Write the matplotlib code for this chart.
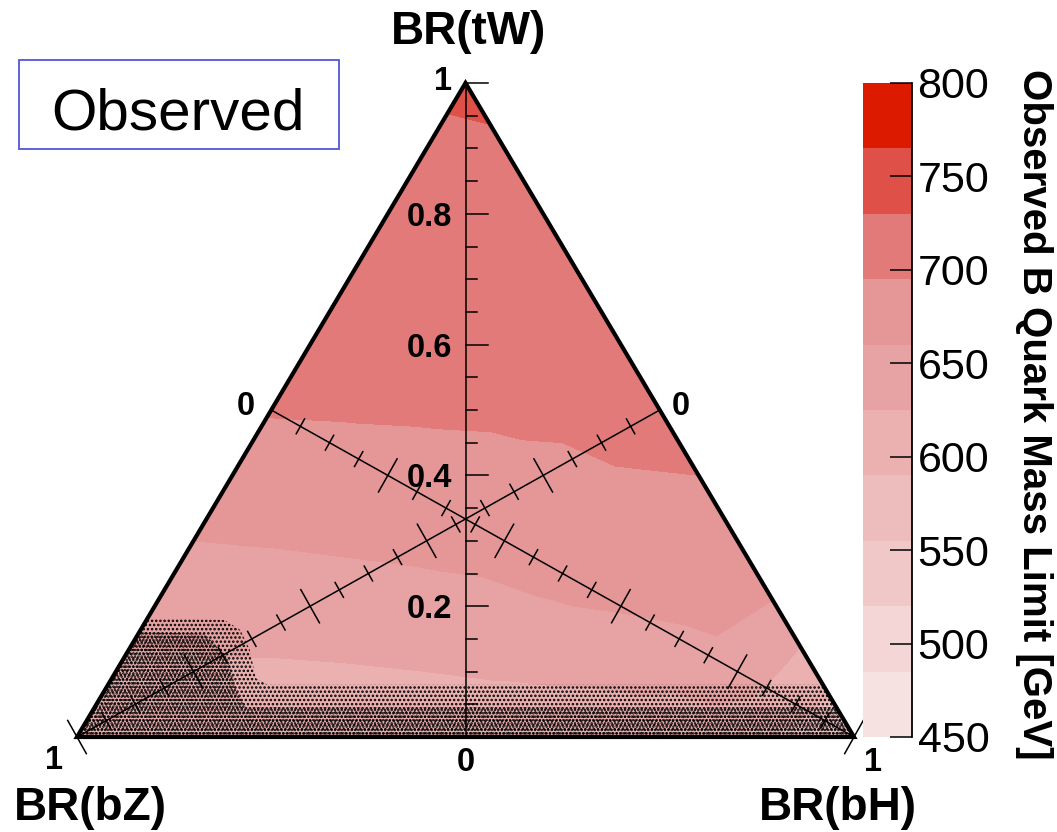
import numpy as np
import matplotlib
matplotlib.use("Agg")
import matplotlib.pyplot as plt
import matplotlib.tri as mtri
from matplotlib.patches import Polygon, Rectangle

plt.rcParams['font.family'] = ['Liberation Sans', 'DejaVu Sans']
plt.rcParams['hatch.linewidth'] = 1.2

W, H = 1057, 832

# ---------------- data ----------------
# rows of constant BR(tW); within a row BR(bH) = 0, 0.1, ... , 1 - BR(tW)
tw_rows = [0.0, 0.1, 0.2, 0.3, 0.4, 0.5, 0.6, 0.7, 0.8, 0.9, 1.0]
bh_step = 0.1
limit_rows = [
    [600, 602, 604, 606, 607, 607, 607, 606, 603, 590, 565],
    [618, 619, 620, 622, 625, 628, 631, 636, 648, 605],
    [639, 643, 644, 647, 651, 658, 663, 670, 658],
    [660, 662, 665, 668, 671, 675, 680, 679],
    [679, 681, 683, 685, 689, 694, 695],
    [697, 698, 699, 700, 701, 702],
    [705, 706, 706, 707, 708],
    [711, 712, 713, 714],
    [716, 718, 720],
    [722, 726],
    [737],
]
z_min, z_max, n_contours = 450, 800, 20
palette = ['#f7e2e2', '#f4d6d6', '#f0c8c8', '#edbcbc', '#ebb0b0',
           '#e7a3a3', '#e59696', '#e17a79', '#de5048', '#dc1a00']
cbar_ticks = [450, 500, 550, 600, 650, 700, 750, 800]
axis_major_ticks = [0.2, 0.4, 0.6, 0.8]
axis_major_labels = ['0.2', '0.4', '0.6', '0.8']

# stippled region (tW, bH) boundaries: outer fringe and denser core
dot_region = [(0.0, 0.0), (0.182, 0.0), (0.179, 0.10), (0.164, 0.128),
              (0.133, 0.156), (0.09, 0.185), (0.080, 0.205), (0.080, 0.920),
              (0.0, 1.0)]
dense_region = [(0.0, 0.0), (0.160, 0.0), (0.158, 0.085), (0.12, 0.135),
                (0.07, 0.17), (0.045, 0.195), (0.045, 0.955), (0.0, 1.0)]

# ---------------- layout ----------------
left_px, right_px, bottom_px, top_px = 77, 854, 737, 83
sx = right_px - left_px
sy = bottom_px - top_px

fig = plt.figure(figsize=(W / 100, H / 100), dpi=100)
ax = fig.add_axes([left_px / W, (H - bottom_px) / H, sx / W, sy / H])
ax.set_xlim(0, 1)
ax.set_ylim(0, 1)
ax.axis('off')


def cart(tw, bh):
    return bh + tw / 2.0, tw


# grid -> triangulation
xs, ys, zs = [], [], []
for tw, row in zip(tw_rows, limit_rows):
    for i, v in enumerate(row):
        x, y = cart(tw, i * bh_step)
        xs.append(x)
        ys.append(y)
        zs.append(v)
tri = mtri.Triangulation(np.array(xs), np.array(ys))
levels = np.linspace(z_min, z_max, n_contours + 1)
band_colors = [c for c in palette for _ in range(2)]
cs = ax.tricontourf(tri, np.array(zs, float), levels=levels, colors=band_colors)

# stipple
for reg, hatch in [(dot_region, '....'), (dense_region, '.....')]:
    pts = [cart(t, h) for t, h in reg]
    ax.add_patch(Polygon(pts, closed=True, fill=False, hatch=hatch,
                         edgecolor='black', linewidth=0))

# triangle border
ax.add_patch(Polygon([(0, 0), (1, 0), (0.5, 1)], closed=True, fill=False,
                     edgecolor='black', linewidth=3.0, joinstyle='miter',
                     clip_on=False, zorder=5))

# vertical tW axis
ax.plot([0.5, 0.5], [0, 1], color='black', lw=1.1, zorder=4)
for k in range(21):
    t = k * 0.05
    L = 22 if k % 4 == 0 else 11
    ax.plot([0.5, 0.5 + L / sx], [t, t], color='black', lw=1.1, zorder=4,
            clip_on=False)


def draw_axis(A, B):
    ax.plot([A[0], B[0]], [A[1], B[1]], color='black', lw=1.1, zorder=4)
    dpx = np.array([(B[0] - A[0]) * sx, (B[1] - A[1]) * sy])
    perp = np.array([-dpx[1], dpx[0]]) / np.hypot(*dpx)
    for k in range(21):
        v = k * 0.05
        P = (A[0] + v * (B[0] - A[0]), A[1] + v * (B[1] - A[1]))
        L = 38 if k % 4 == 0 else 17
        ox, oy = perp[0] * L / 2 / sx, perp[1] * L / 2 / sy
        ax.plot([P[0] - ox, P[0] + ox], [P[1] - oy, P[1] + oy],
                color='black', lw=1.1, zorder=4, clip_on=False)


draw_axis(cart(0.5, 0.0), cart(0.0, 1.0))   # BR(bH) axis
draw_axis(cart(0.5, 0.5), cart(0.0, 0.0))   # BR(bZ) axis

lab = dict(fontsize=23.5, fontweight='bold', textcoords='offset pixels',
           va='baseline', annotation_clip=False)
for t, s in zip(axis_major_ticks, axis_major_labels):
    ax.annotate(s, xy=(0.5, t), xytext=(-13, -12), ha='right', **lab)
ax.annotate('1', xy=(0.5, 1), xytext=(-14, -7), ha='right', **lab)
ax.annotate('0', xy=(0.5, 0), xytext=(0, -34), ha='center', **lab)
ax.annotate('0', xy=cart(0.5, 0.0), xytext=(-25, -5), ha='center', **lab)
ax.annotate('0', xy=cart(0.5, 0.5), xytext=(21, -5), ha='center', **lab)
ax.annotate('1', xy=cart(0.0, 0.0), xytext=(-23, -32), ha='center', **lab)
ax.annotate('1', xy=cart(0.0, 1.0), xytext=(19, -34), ha='center', **lab)

tt = dict(fontsize=33, fontweight='bold', va='baseline', ha='center')
fig.text(469 / W, 1 - 44 / H, 'BR(tW)', **tt)
fig.text(90 / W, 1 - 820 / H, 'BR(bZ)', **tt)
fig.text(838 / W, 1 - 820 / H, 'BR(bH)', **tt)

# legend-like box
fig.patches.append(Rectangle((19 / W, 1 - 149 / H), 320 / W, 89 / H,
                             transform=fig.transFigure, fill=False,
                             edgecolor='#4f56d8', linewidth=1.3))
fig.text(178 / W, 1 - 129 / H, 'Observed', fontsize=42, ha='center',
         va='baseline')

# colour bar
cax = fig.add_axes([863 / W, (H - bottom_px) / H, 49 / W, sy / H])
cb = fig.colorbar(cs, cax=cax, ticks=cbar_ticks)
cb.outline.set_visible(False)
cax.plot([1, 1], [0, 1], transform=cax.transAxes, color='black', lw=1.3,
         clip_on=False)
cax.tick_params(axis='y', direction='in', length=15.8, width=1.1,
                labelsize=31, pad=4, right=True, left=False)
cax.set_yticklabels([str(v) for v in cbar_ticks])
fig.text(1034 / W, 1 - 414 / H, 'Observed B Quark Mass Limit [GeV]',
         rotation=270, ha='center', va='center', fontsize=29,
         fontweight='bold')

fig.savefig('out.png', dpi=100)
